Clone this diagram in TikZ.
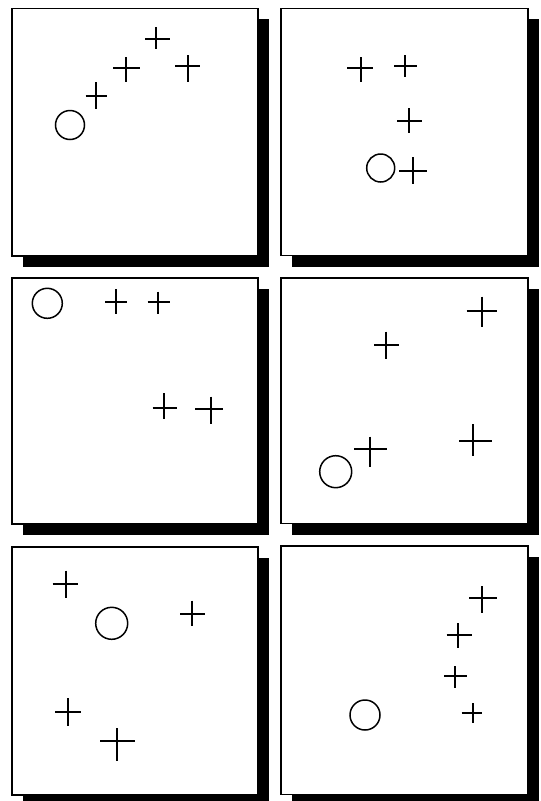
\documentclass[tikz,border=0pt]{standalone}
\begin{document}
\begin{tikzpicture}[x=1pt,y=-1pt,
  shadowbox/.style={fill=black,draw=none},
  framebox/.style={fill=white,draw=black,line width=1.6pt},
  crossline/.style={draw=black,line width=1.9pt},
  ringline/.style={draw=black,line width=1.5pt}]
\newcommand\pxplus[6]{\draw[crossline] (#1,#3) -- (#2,#3) (#4,#5) -- (#4,#6);}
\newcommand\panel[4]{%
  \fill[shadowbox] (#1+11,#3+11) rectangle (#2+11,#4+11);
  \draw[framebox] (#1,#3) rectangle (#2,#4);}
\useasboundingbox (0,0) rectangle (541,801);
\fill[white] (0,0) rectangle (541,801);
% panels
\panel{11.7}{258.2}{8.3}{255.8}
\panel{280.7}{527.7}{8.3}{255.5}
\panel{11.7}{258.2}{277.7}{524.2}
\panel{280.7}{527.7}{277.7}{523.5}
\panel{11.7}{258.2}{546.7}{795}
\panel{280.7}{527.7}{546.2}{794.5}
% panel 1
\draw[ringline] (70,125) circle (14.5);
\pxplus{85.7}{107.3}{95.7}{96}{82.3}{109}
\pxplus{113.3}{140}{68.3}{126}{57.3}{81.7}
\pxplus{145}{170}{39.3}{156}{27.3}{49.3}
\pxplus{175}{200}{66}{188.3}{55}{81.7}
% panel 2
\draw[ringline] (380.7,168) circle (14);
\pxplus{347.3}{372.7}{68.3}{360.7}{57.3}{81.7}
\pxplus{394.3}{416.7}{65.7}{405}{55}{76.7}
\pxplus{397.3}{421.7}{120.7}{409.3}{108.3}{133.3}
\pxplus{399.3}{426.7}{170.7}{412.7}{157.3}{184}
% panel 3
\draw[ringline] (47.3,303.3) circle (15);
\pxplus{105}{127.3}{301.7}{116}{289}{314.3}
\pxplus{147.7}{170}{302.3}{158.3}{291.7}{314.3}
\pxplus{152.7}{177.3}{407.7}{164}{393.3}{419}
\pxplus{195}{222.7}{409.3}{210.7}{396.7}{424.3}
% panel 4
\draw[ringline] (335.7,471.7) circle (16);
\pxplus{466.7}{496.7}{310.7}{482.3}{296.7}{326.7}
\pxplus{374.3}{399.3}{345}{385.7}{331.7}{359}
\pxplus{354.3}{386.7}{449.3}{370}{436.7}{466.7}
\pxplus{459}{491.7}{441}{472.7}{424.3}{456}
% panel 5
\draw[ringline] (111.7,623.3) circle (16);
\pxplus{52.7}{78.3}{584}{65.7}{570.7}{598.3}
\pxplus{180}{205}{614}{192.3}{600.7}{626}
\pxplus{55}{80.7}{711.7}{67.7}{698.3}{726}
\pxplus{100}{135}{740.7}{116.7}{728.3}{760.7}
% panel 6
\draw[ringline] (365,715) circle (15);
\pxplus{469.3}{496.7}{597.7}{482.3}{586}{613.3}
\pxplus{446.7}{471.7}{635}{458.3}{623.3}{648.3}
\pxplus{444}{466.7}{675.7}{455.3}{666}{688.3}
\pxplus{461.7}{481.7}{712.7}{472.7}{703.3}{723.3}
\end{tikzpicture}
\end{document}
